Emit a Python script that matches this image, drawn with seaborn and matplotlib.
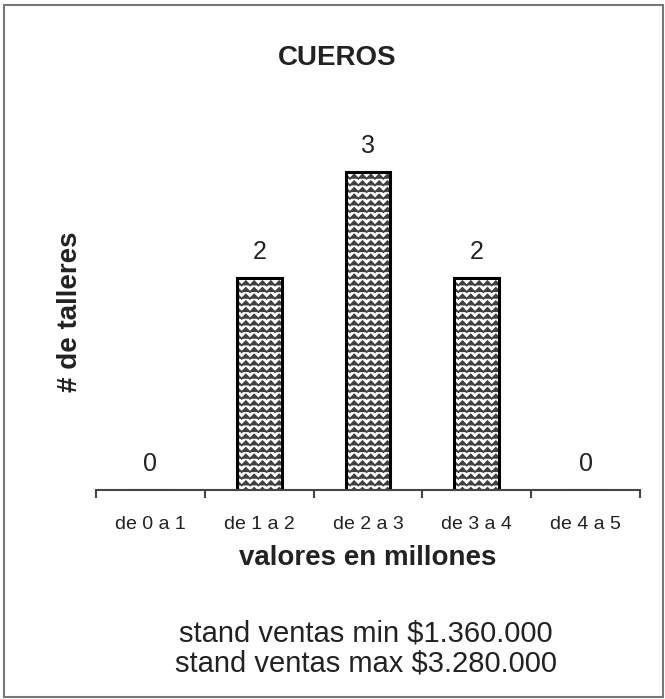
import numpy as np
import matplotlib
matplotlib.use("Agg")
import matplotlib.pyplot as plt
import matplotlib.hatch as mhatch
import matplotlib.colors as mcolors
from matplotlib.path import Path
from matplotlib.patches import Rectangle
import seaborn as sns

# ---- data ----
categories = ["de 0 a 1", "de 1 a 2", "de 2 a 3", "de 3 a 4", "de 4 a 5"]
talleres = [0, 2, 3, 2, 0]
title = "CUEROS"
xlabel = "valores en millones"
ylabel = "# de talleres"
notes = ["stand ventas min $1.360.000", "stand ventas max $3.280.000"]


# ---- custom wavy hatch (replaces the '-' hatch) ----
class ZigZagHatch(mhatch.HatchPatternBase):
    def __init__(self, hatch, density):
        self.rows = 15 if "-" in hatch else 0
        self.zigs = 12
        self.num_vertices = self.rows * (2 * self.zigs + 1)

    def set_vertices_and_codes(self, vertices, codes):
        n = 2 * self.zigs + 1
        xs = np.linspace(0, 1, n)
        amp = 0.021
        for r in range(self.rows):
            y0 = (r + 0.5) / self.rows
            ys = y0 + np.where(np.arange(n) % 2 == 0, -amp, amp)
            vertices[r * n:(r + 1) * n, 0] = xs
            vertices[r * n:(r + 1) * n, 1] = ys
            codes[r * n] = Path.MOVETO
            codes[r * n + 1:(r + 1) * n] = Path.LINETO


mhatch._hatch_types[:] = [ZigZagHatch if t is mhatch.HorizontalHatch else t
                          for t in mhatch._hatch_types]

sns.set_theme(style="white")
plt.rcParams["font.family"] = ["Liberation Sans", "DejaVu Sans"]
plt.rcParams["hatch.linewidth"] = 1.3

fig = plt.figure(figsize=(6.65, 6.99), dpi=100)
fig.patch.set_facecolor("white")
ax = fig.add_axes([96 / 665, 209 / 699, 544 / 665, 371 / 699])

sns.barplot(x=categories, y=talleres, color="white", edgecolor="black",
            linewidth=2.2, hatch="-", width=0.41, saturation=1, ax=ax)
for p in ax.patches:
    p._hatch_color = mcolors.to_rgba("#404040")

ax.bar_label(ax.containers[0], labels=[str(v) for v in talleres],
             padding=10, fontsize=18, color="#222222")

ax.set_ylim(0, 3.5)
ax.set_xlim(-0.5, len(categories) - 0.5)
ax.set_yticks([])
for s in ["left", "top", "right"]:
    ax.spines[s].set_visible(False)
ax.spines["bottom"].set_color("#444444")
ax.spines["bottom"].set_linewidth(1.5)

ax.set_xticks(np.arange(-0.5, len(categories)), minor=True)
ax.tick_params(axis="x", which="major", length=0, pad=19, labelsize=14,
               labelcolor="#222222")
ax.tick_params(axis="x", which="minor", length=6, width=1.5,
               direction="out", color="#444444", bottom=True)

ax.set_xlabel(xlabel, fontsize=20, fontweight="bold", color="#222222")
ax.xaxis.set_label_coords(0.5, -0.147)
ax.set_ylabel(ylabel, fontsize=20, fontweight="bold", color="#222222")
ax.yaxis.set_label_coords(-0.024, 0.48)

fig.text(337 / 665, 1 - 58 / 699, title, ha="center", va="center",
         fontsize=20, fontweight="bold", color="#222222")
fig.text(366 / 665, 1 - 633 / 699, notes[0], ha="center", va="center",
         fontsize=21, color="#222222")
fig.text(366 / 665, 1 - 663 / 699, notes[1], ha="center", va="center",
         fontsize=21, color="#222222")

fig.patches.append(Rectangle((4 / 665, 2 / 699), 659 / 665, 692 / 699,
                             transform=fig.transFigure, fill=False,
                             edgecolor="#777777", linewidth=1.5))

fig.savefig("out.png", dpi=100)
